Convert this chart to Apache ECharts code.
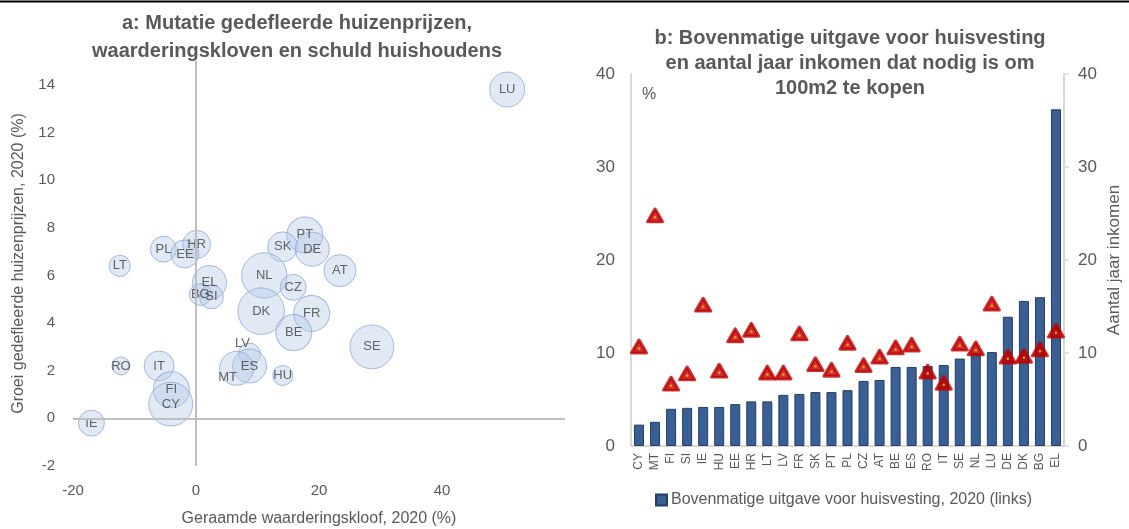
<!DOCTYPE html>
<html>
<head>
<meta charset="utf-8">
<script src="https://cdn.jsdelivr.net/npm/echarts@6/dist/echarts.min.js"></script>
<style>
  html, body { margin: 0; padding: 0; background: #fff; }
  #chart { width: 1129px; height: 529px; }
</style>
</head>
<body>
<div id="chart"></div>
<script>
// panel a: bubbles
const bubbleCountries = ['LU', 'PT', 'SK', 'DE', 'HR', 'PL', 'EE', 'LT', 'AT', 'NL', 'EL', 'CZ', 'BG', 'SI', 'DK', 'FR', 'BE', 'SE', 'LV', 'ES', 'MT', 'HU', 'RO', 'IT', 'FI', 'CY', 'IE'];
const valuationGap = [50.6, 17.7, 14.1, 18.9, 0.1, -5.3, -1.8, -12.4, 23.4, 11.1, 2.2, 15.8, 0.7, 2.5, 10.6, 18.8, 15.9, 28.6, 8.7, 8.7, 6.6, 14.1, -12.2, -6.0, -4.0, -4.1, -17.0];
const priceGrowth = [13.8, 7.7, 7.2, 7.1, 7.3, 7.1, 6.9, 6.4, 6.2, 6.0, 5.7, 5.5, 5.2, 5.1, 4.5, 4.4, 3.6, 3.0, 2.7, 2.2, 2.1, 1.8, 2.2, 2.2, 1.2, 0.6, -0.2];
const householdDebt = [122, 129, 89, 115, 78, 67, 78, 45, 102, 204, 115, 67, 48, 57, 215, 129, 129, 192, 48, 115, 115, 40, 32, 89, 129, 192, 67];

// panel b: bars + triangles
const barCountries = ['CY', 'MT', 'FI', 'SI', 'IE', 'HU', 'EE', 'HR', 'LT', 'LV', 'FR', 'SK', 'PT', 'PL', 'CZ', 'AT', 'BE', 'ES', 'RO', 'IT', 'SE', 'NL', 'LU', 'DE', 'DK', 'BG', 'EL'];
const overburden = [2.3, 2.6, 4.0, 4.1, 4.2, 4.2, 4.5, 4.8, 4.8, 5.5, 5.6, 5.8, 5.8, 6.0, 7.0, 7.1, 8.5, 8.5, 8.6, 8.7, 9.4, 10.0, 10.1, 13.9, 15.6, 16.0, 36.2];
const yearsIncome = [10.7, 24.8, 6.7, 7.8, 15.2, 8.1, 11.9, 12.5, 7.9, 7.9, 12.1, 8.8, 8.2, 11.1, 8.7, 9.6, 10.6, 10.9, 8.0, 6.8, 11.0, 10.5, 15.3, 9.6, 9.7, 10.4, 12.4];

const barName = 'Bovenmatige uitgave voor huisvesting, 2020 (links)';
const grey = '#595959';

// a few labels sit off-centre in the original
const labelShift = { LV: [-7, -11], MT: [-9, 9] };

const bubbleData = bubbleCountries.map((c, i) => {
  const item = { name: c, value: [valuationGap[i], priceGrowth[i], householdDebt[i]] };
  if (labelShift[c]) item.label = { offset: labelShift[c] };
  return item;
});

const chart = echarts.init(document.getElementById('chart'));

const option = {
  animation: false,
  textStyle: { fontFamily: 'Liberation Sans, Arial, sans-serif' },
  title: [
    {
      text: 'a: Mutatie gedefleerde huizenprijzen,\nwaarderingskloven en schuld huishoudens',
      left: 292, top: 4, textAlign: 'center',
      textStyle: { fontSize: 20, fontWeight: 'bold', color: grey, lineHeight: 28 }
    },
    {
      text: 'b: Bovenmatige uitgave voor huisvesting\nen aantal jaar inkomen dat nodig is om\n100m2 te kopen',
      left: 845, top: 21, textAlign: 'center',
      textStyle: { fontSize: 20, fontWeight: 'bold', color: grey, lineHeight: 25 }
    }
  ],
  graphic: [
    { type: 'line', shape: { x1: 0, y1: 1.5, x2: 1129, y2: 1.5 }, style: { stroke: '#000', lineWidth: 2 } },
    { type: 'text', left: 642, top: 87, style: { text: '%', fontSize: 16, fill: grey, fontFamily: 'Liberation Sans' } }
  ],
  legend: {
    data: [barName],
    left: 650, top: 487,
    icon: 'rect', itemWidth: 11, itemHeight: 11, itemGap: 4,
    textStyle: { fontSize: 16, color: grey, padding: [0, 0, 0, -1] }
  },
  grid: [
    { left: 73, right: 564, top: 61, bottom: 63, outerBoundsMode: 'none' },
    { left: 631, right: 65, top: 74, bottom: 83, outerBoundsMode: 'none' }
  ],
  xAxis: [
    {
      type: 'value', gridIndex: 0, min: -20, max: 60, interval: 20,
      name: 'Geraamde waarderingskloof, 2020 (%)', nameLocation: 'middle', nameGap: 45,
      nameTextStyle: { fontSize: 16, color: grey },
      axisLine: { show: false }, axisTick: { show: false }, splitLine: { show: false },
      axisLabel: { fontSize: 15, color: grey, margin: 17, showMaxLabel: false }
    },
    {
      type: 'category', gridIndex: 1, data: barCountries,
      axisLine: { lineStyle: { color: '#d9d9d9', width: 2 } },
      axisTick: { show: false },
      axisLabel: { rotate: 90, interval: 0, fontSize: 12, color: grey, margin: 7 }
    }
  ],
  yAxis: [
    {
      type: 'value', gridIndex: 0, min: -2, max: 15, interval: 2,
      name: 'Groei gedefleerde huizenprijzen, 2020 (%)', nameLocation: 'middle', nameGap: 46,
      nameTextStyle: { fontSize: 16, color: grey },
      axisLine: { show: false }, axisTick: { show: false }, splitLine: { show: false },
      axisLabel: { fontSize: 15, color: grey, margin: 18, showMaxLabel: false }
    },
    {
      type: 'value', gridIndex: 1, min: 0, max: 40, interval: 10,
      axisLine: { show: true, lineStyle: { color: '#d9d9d9', width: 2 } },
      axisTick: { show: false }, splitLine: { show: false },
      axisLabel: { fontSize: 17, color: grey, margin: 16 }
    },
    {
      type: 'value', gridIndex: 1, position: 'right', min: 0, max: 40, interval: 10,
      name: 'Aantal jaar inkomen', nameLocation: 'middle', nameGap: 42, nameRotate: 90,
      nameTextStyle: { fontSize: 17, color: grey },
      axisLine: { show: true, lineStyle: { color: '#d9d9d9', width: 2 } },
      axisTick: { show: true, length: 5, lineStyle: { color: '#d9d9d9', width: 1.5 } },
      splitLine: { show: false },
      axisLabel: { fontSize: 17, color: grey, margin: 14 }
    }
  ],
  series: [
    {
      type: 'scatter', xAxisIndex: 0, yAxisIndex: 0,
      data: bubbleData,
      symbolSize: d => 3.17 * Math.sqrt(d[2]),
      itemStyle: { color: 'rgba(180,199,231,0.5)', borderColor: '#8eaadb', borderWidth: 1 },
      label: { show: true, position: 'inside', formatter: p => p.name, fontSize: 13, color: '#404040' },
      markLine: {
        silent: true, symbol: 'none', animation: false,
        label: { show: false },
        lineStyle: { color: '#bfbfbf', width: 2, type: 'solid' },
        data: [{ xAxis: 0 }, { yAxis: 0 }]
      },
      z: 3
    },
    {
      name: barName, type: 'bar', xAxisIndex: 1, yAxisIndex: 1,
      data: overburden, barWidth: 10,
      itemStyle: { color: '#3a6093', borderColor: '#243f66', borderWidth: 1 }
    },
    {
      name: 'Aantal jaar inkomen', type: 'scatter', xAxisIndex: 1, yAxisIndex: 2,
      data: yearsIncome, symbol: 'triangle', symbolSize: [15, 13],
      itemStyle: { color: '#c00000', borderColor: '#c00000', borderWidth: 3, borderJoin: 'round' },
      z: 4
    },
    {
      name: 'dot', type: 'scatter', xAxisIndex: 1, yAxisIndex: 2,
      data: yearsIncome, symbol: 'circle', symbolSize: 2.5, symbolOffset: [0, 2],
      itemStyle: { color: '#ffc000' }, silent: true,
      z: 5
    }
  ]
};

chart.setOption(option);
</script>
</body>
</html>
